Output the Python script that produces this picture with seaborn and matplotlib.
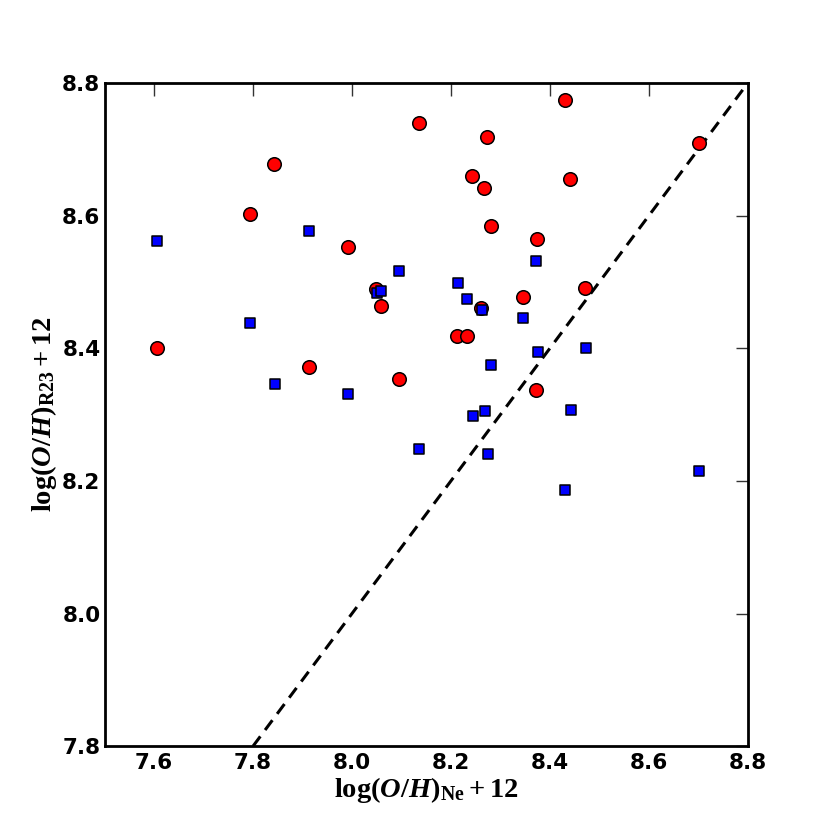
import matplotlib
matplotlib.use("Agg")
import matplotlib.pyplot as plt
import seaborn as sns
import pandas as pd

# Data
red_x = [7.605, 7.793, 7.843, 7.913, 7.992, 8.049, 8.059, 8.095, 8.136, 8.213, 8.232,
         8.242, 8.261, 8.267, 8.273, 8.280, 8.345, 8.373, 8.371, 8.430, 8.440, 8.471, 8.702]
red_y = [8.400, 8.603, 8.678, 8.372, 8.552, 8.490, 8.463, 8.354, 8.739, 8.419, 8.419,
         8.660, 8.460, 8.642, 8.719, 8.585, 8.478, 8.565, 8.337, 8.775, 8.655, 8.491, 8.710]

blue_x = [7.605, 7.793, 7.844, 7.913, 7.992, 8.050, 8.059, 8.095, 8.136, 8.214, 8.233,
          8.245, 8.262, 8.268, 8.275, 8.281, 8.346, 8.372, 8.375, 8.431, 8.442, 8.473, 8.702]
blue_y = [8.562, 8.438, 8.346, 8.577, 8.331, 8.484, 8.487, 8.517, 8.248, 8.499, 8.475,
          8.298, 8.457, 8.306, 8.240, 8.375, 8.446, 8.531, 8.394, 8.187, 8.307, 8.400, 8.215]

one_to_one = [7.8, 8.8]
x_ticks = [7.6, 7.8, 8.0, 8.2, 8.4, 8.6, 8.8]
y_ticks = [7.8, 8.0, 8.2, 8.4, 8.6, 8.8]

sns.set_style("white")
plt.rcParams["font.family"] = ["DejaVu Sans"]
plt.rcParams["text.color"] = "black"
plt.rcParams["axes.labelcolor"] = "black"
plt.rcParams["xtick.color"] = "black"
plt.rcParams["ytick.color"] = "black"
plt.rcParams["mathtext.fontset"] = "custom"
plt.rcParams["mathtext.rm"] = "Liberation Serif:bold"
plt.rcParams["mathtext.it"] = "Liberation Serif:italic:bold"
plt.rcParams["mathtext.bf"] = "Liberation Serif:bold"

fig = plt.figure(figsize=(8.3, 8.3), dpi=100)
ax = fig.add_axes([0.126, 0.101, 0.775, 0.799])

line_df = pd.DataFrame({"x": one_to_one, "y": one_to_one})
sns.lineplot(data=line_df, x="x", y="y", ax=ax, color="black", linewidth=2.2,
             linestyle=(0, (4, 2.6)), zorder=1)

red_df = pd.DataFrame({"x": red_x, "y": red_y})
blue_df = pd.DataFrame({"x": blue_x, "y": blue_y})
sns.scatterplot(data=red_df, x="x", y="y", ax=ax, marker="o", color="red",
                edgecolor="black", linewidth=1.1, s=95, zorder=2)
sns.scatterplot(data=blue_df, x="x", y="y", ax=ax, marker="s", color="blue",
                edgecolor="black", linewidth=1.1, s=55, zorder=3)

ax.set_xlim(7.5, 8.8)
ax.set_ylim(7.8, 8.8)
ax.set_xticks(x_ticks)
ax.set_yticks(y_ticks)
ax.set_xticklabels([f"{v:.1f}" for v in x_ticks])
ax.set_yticklabels([f"{v:.1f}" for v in y_ticks])

ax.tick_params(direction="in", length=9, width=1, color="#333333",
               labelcolor="black", top=True, right=True, labelsize=15.5)
ax.tick_params(axis="x", pad=5)
ax.tick_params(axis="y", pad=3)
for lab in ax.get_xticklabels() + ax.get_yticklabels():
    lab.set_fontweight("bold")

for sp in ax.spines.values():
    sp.set_visible(True)
    sp.set_linewidth(2.0)
    sp.set_color("black")

ax.set_xlabel(r"$\log(O/H)_{\rm Ne}+12$", fontsize=20.5, labelpad=1)
ax.set_ylabel(r"$\log(O/H)_{\rm R23}+12$", fontsize=20.5, labelpad=2)

fig.savefig("out.png", dpi=100, facecolor="white")
